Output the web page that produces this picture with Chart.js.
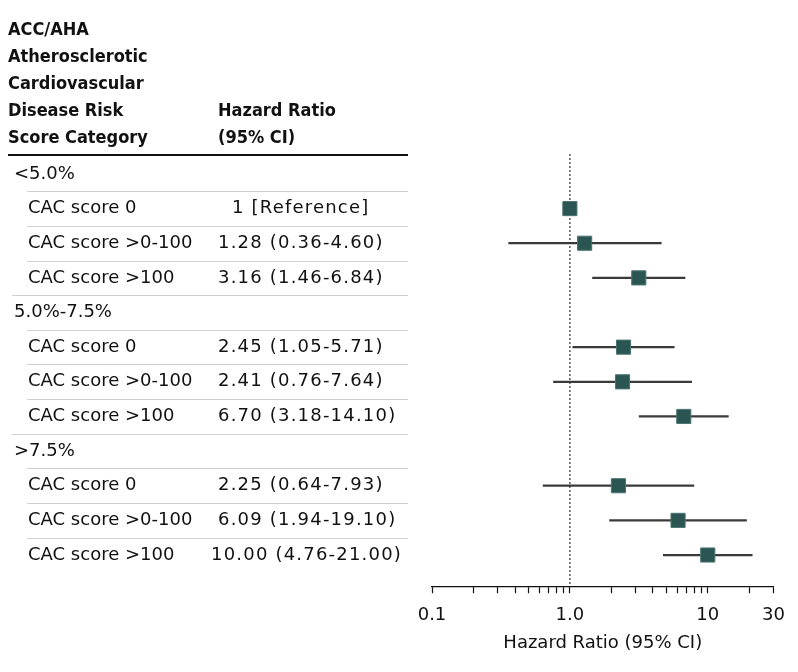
<!DOCTYPE html>
<html>
<head>
<meta charset="utf-8">
<script src="https://cdn.jsdelivr.net/npm/chart.js@4.4.1/dist/chart.umd.min.js"></script>
<style>
  html, body { margin: 0; padding: 0; background: #fff; }
  #wrap { width: 798px; height: 672px; position: relative; }
</style>
</head>
<body>
<div id="wrap"><canvas id="forestChart"></canvas></div>
<script>
// Rows of the table, top to bottom (group headers have no estimate)
const rowLabels = ['<5.0%', 'CAC score 0', 'CAC score >0-100', 'CAC score >100',
                   '5.0%-7.5%', 'CAC score 0', 'CAC score >0-100', 'CAC score >100',
                   '>7.5%', 'CAC score 0', 'CAC score >0-100', 'CAC score >100'];
const isGroup = [true, false, false, false, true, false, false, false, true, false, false, false];
const hrText = ['', '1 [Reference]', '1.28 (0.36-4.60)', '3.16 (1.46-6.84)',
                '', '2.45 (1.05-5.71)', '2.41 (0.76-7.64)', '6.70 (3.18-14.10)',
                '', '2.25 (0.64-7.93)', '6.09 (1.94-19.10)', '10.00 (4.76-21.00)'];
const hr    = [null, 1, 1.28, 3.16, null, 2.45, 2.41, 6.70, null, 2.25, 6.09, 10.00];
const lower = [null, null, 0.36, 1.46, null, 1.05, 0.76, 3.18, null, 0.64, 1.94, 4.76];
const upper = [null, null, 4.60, 6.84, null, 5.71, 7.64, 14.10, null, 7.93, 19.10, 21.00];

const headerLeft = ['ACC/AHA', 'Atherosclerotic', 'Cardiovascular', 'Disease Risk', 'Score Category'];
const headerRight = ['Hazard Ratio', '(95% CI)'];

const xTicks = [0.1, 0.2, 0.3, 0.4, 0.5, 0.6, 0.7, 0.8, 0.9,
                1, 2, 3, 4, 5, 6, 7, 8, 9, 10, 20, 30];
const xTickLabels = { 0.1: '0.1', 1: '1.0', 10: '10', 30: '30' };

const FONT = '"DejaVu Sans", sans-serif';
const Y_MIN = -0.7, Y_MAX = 11.9;

// CI whiskers as floating bars, estimates as square points
const ciData = [];
const hrData = [];
for (let i = 0; i < rowLabels.length; i++) {
    if (lower[i] !== null) ciData.push({ x: [lower[i], upper[i]], y: i });
    if (hr[i] !== null) hrData.push({ x: hr[i], y: i });
}

// left-hand table drawn against the y scale
const tablePlugin = {
    id: 'forestTable',
    afterDraw(chart) {
        const ctx = chart.ctx;
        const y = chart.scales.y;
        ctx.save();
        ctx.fillStyle = '#111';
        ctx.textBaseline = 'middle';
        ctx.textAlign = 'left';

        ctx.font = 'bold 18px "DejaVu Sans Condensed", ' + FONT;
        headerLeft.forEach((t, k) => ctx.fillText(t, 8, 30 + k * 27.2));
        headerRight.forEach((t, k) => ctx.fillText(t, 218, 111 + k * 27.2));

        ctx.strokeStyle = '#111';
        ctx.lineWidth = 2;
        ctx.beginPath();
        ctx.moveTo(8, 155);
        ctx.lineTo(408, 155);
        ctx.stroke();

        for (let i = 0; i < rowLabels.length; i++) {
            const py = y.getPixelForValue(i);
            ctx.font = '18px ' + FONT;
            ctx.letterSpacing = '0px';
            ctx.fillText(rowLabels[i], isGroup[i] ? 14 : 28, py);
            if (hrText[i]) {
                let tx = 218;
                if (hrText[i].startsWith('10.')) tx = 211;
                if (hrText[i].startsWith('1 [')) tx = 232;
                ctx.letterSpacing = '1.2px';
                ctx.fillText(hrText[i], tx, py);
            }
            if (i < rowLabels.length - 1) {
                const sy = Math.round(y.getPixelForValue(i + 0.5)) + 0.5;
                const nextGroup = isGroup[i + 1];
                ctx.strokeStyle = '#cfcfcf';
                ctx.lineWidth = 1;
                ctx.beginPath();
                ctx.moveTo(nextGroup ? 12 : 27, sy);
                ctx.lineTo(408, sy);
                ctx.stroke();
            }
        }
        ctx.restore();
    }
};

const ctx = document.getElementById('forestChart').getContext('2d');
new Chart(ctx, {
    type: 'bar',
    data: {
        datasets: [{
            type: 'line',
            data: [{ x: 1, y: -0.57 }, { x: 1, y: Y_MAX }],
            borderColor: '#111',
            borderWidth: 1.4,
            borderDash: [1.5, 2.5],
            pointRadius: 0,
            order: 3
        }, {
            type: 'bar',
            data: ciData,
            backgroundColor: '#3a3a3a',
            barThickness: 1.6,
            order: 2
        }, {
            type: 'line',
            data: hrData,
            showLine: false,
            pointStyle: 'rect',
            pointRadius: 10,
            pointBackgroundColor: '#2a5552',
            pointBorderColor: '#4d7572',
            pointBorderWidth: 1,
            order: 1
        }]
    },
    options: {
        indexAxis: 'y',
        responsive: true,
        maintainAspectRatio: false,
        animation: false,
        layout: { padding: { left: 432, right: 22, top: 149.7, bottom: 23 } },
        plugins: {
            legend: { display: false },
            tooltip: { enabled: false }
        },
        scales: {
            x: {
                type: 'logarithmic',
                min: 0.1,
                max: 30,
                afterBuildTicks: (scale) => {
                    scale.ticks = xTicks.map(v => ({ value: v, major: v in xTickLabels }));
                },
                grid: { drawOnChartArea: false, tickLength: 7, tickColor: '#111', tickWidth: 1.2 },
                border: { color: '#111', width: 1.2 },
                ticks: {
                    autoSkip: false,
                    maxRotation: 0,
                    padding: 13,
                    color: '#111',
                    font: { family: FONT, size: 18, lineHeight: 1 },
                    callback: (value) => xTickLabels[value] || ''
                },
                title: {
                    display: true,
                    text: 'Hazard Ratio (95% CI)',
                    color: '#111',
                    padding: { top: 1, bottom: 0 },
                    font: { family: FONT, size: 18, lineHeight: 0.6 }
                }
            },
            y: {
                type: 'linear',
                reverse: true,
                offset: false,
                min: Y_MIN,
                max: Y_MAX,
                display: false
            }
        }
    },
    plugins: [tablePlugin]
});
</script>
</body>
</html>
